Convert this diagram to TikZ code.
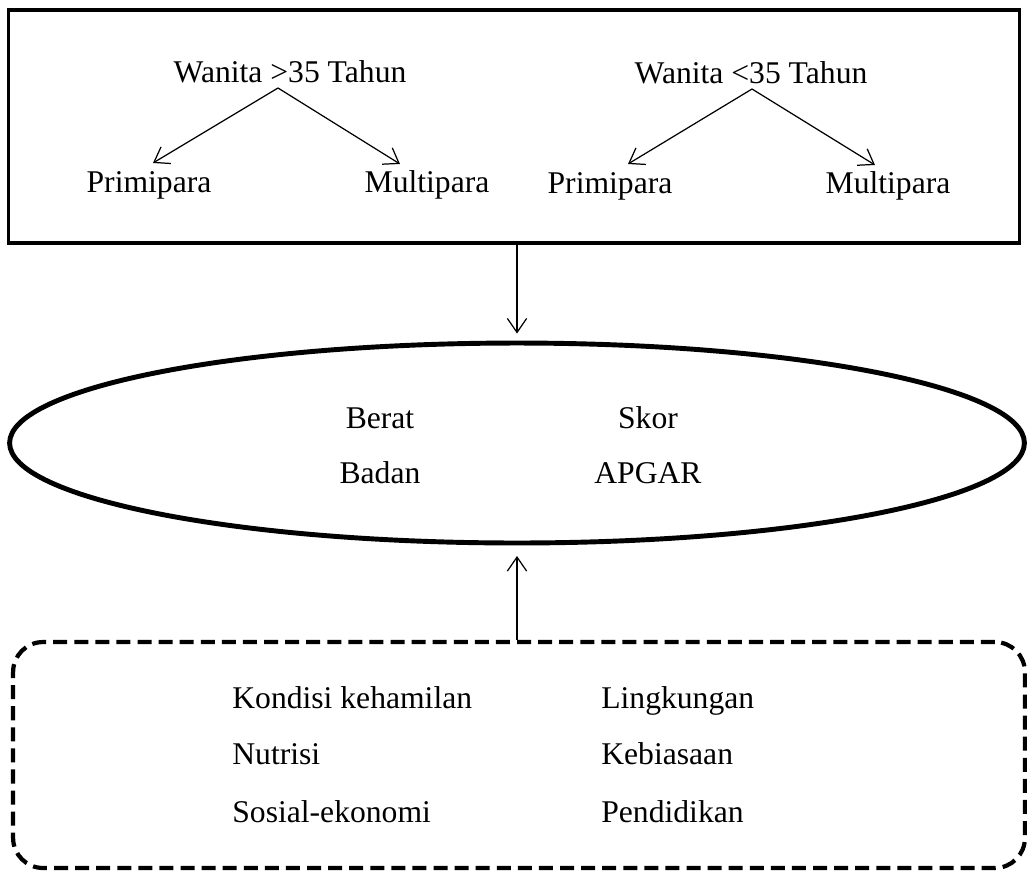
\documentclass[tikz,border=0pt]{standalone}
\usepackage{fontspec}
\setmainfont{Liberation Serif}
\usetikzlibrary{arrows.meta,shapes.geometric}
\begin{document}
\begin{tikzpicture}[x=0.02cm,y=-0.02cm,
  txt/.style={inner sep=0pt,anchor=base,font=\fontsize{18}{21}\selectfont},
  ltxt/.style={txt,anchor=base west},
  arr/.style={line width=0.7pt,-{Straight Barb[length=8pt,width=11pt,line width=0.7pt]}},
  topbox/.style={draw,line width=1.8pt,minimum width=20.24cm,minimum height=4.66cm,inner sep=0pt},
  ellbox/.style={draw,ellipse,line width=2.8pt,minimum width=20.3cm,minimum height=4cm,inner sep=0pt},
  factbox/.style={draw,line width=2.4pt,rounded corners=0.6cm,dash pattern=on 8pt off 4pt,minimum width=20.24cm,minimum height=4.52cm,inner sep=0pt}]
\useasboundingbox (0,0) rectangle (1027,873);
% top box
\node[topbox] (tb) at (514,126.5) {};
\node[txt] (w1) at (290,82) {Wanita >35 Tahun};
\node[txt] (p1) at (149,192) {Primipara};
\node[txt] (m1) at (427,192) {Multipara};
\node[txt] (w2) at (751,83) {Wanita <35 Tahun};
\node[txt] (p2) at (610,193) {Primipara};
\node[txt] (m2) at (888,193) {Multipara};
\coordinate (a1) at (278,88);
\coordinate (t1l) at (153,163);
\coordinate (t1r) at (400,164);
\coordinate (a2) at (752,89);
\coordinate (t2l) at (628,164);
\coordinate (t2r) at (875,165);
\draw[arr] (a1) -- (t1l);
\draw[arr] (a1) -- (t1r);
\draw[arr] (a2) -- (t2l);
\draw[arr] (a2) -- (t2r);
% ellipse
\node[ellbox] (el) at (517,443) {};
\node[txt] (be) at (380,428) {Berat};
\node[txt] (ba) at (380,483) {Badan};
\node[txt] (sk) at (648,428) {Skor};
\node[txt] (ap) at (648,483) {APGAR};
% bottom dashed box
\node[factbox] (fb) at (519,755) {};
\node[ltxt] (k1) at (232,708) {Kondisi kehamilan};
\node[ltxt] (k2) at (232,764) {Nutrisi};
\node[ltxt] (k3) at (232,822) {Sosial-ekonomi};
\node[ltxt] (k4) at (601,708) {Lingkungan};
\node[ltxt] (k5) at (601,764) {Kebiasaan};
\node[ltxt] (k6) at (601,822) {Pendidikan};
% connectors
\coordinate (c1) at (tb.south -| el.north);
\coordinate (c2) at (fb.north -| el.south);
\draw[arr] (c1) -- ([yshift=4pt]el.north);
\draw[arr] (c2) -- ([yshift=-6pt]el.south);
\end{tikzpicture}
\end{document}
